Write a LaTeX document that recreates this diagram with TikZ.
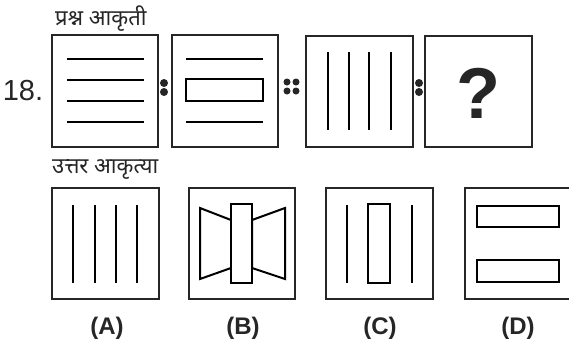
\documentclass[tikz,border=0pt]{standalone}
\usepackage{fontspec}
\setmainfont{Liberation Sans}
\newfontfamily\deva[Script=Devanagari]{Noto Sans}
\usetikzlibrary{positioning}

\begin{document}
\begin{tikzpicture}[
		x=1pt, y=-1pt,
		frame/.style={draw=black!85, line width=2.4pt},
		bar/.style={draw=black, line width=2pt},
		dot/.style={fill=black!85, circle, inner sep=0pt, minimum size=8pt},
		smalldot/.style={dot, minimum size=7pt},
		headtxt/.style={font=\deva\fontsize{22}{22}\selectfont, text=black!85, anchor=west, inner sep=0pt},
		choice/.style={font=\bfseries\fontsize{24}{24}\selectfont, text=black!85}
		]
		
		\fill[white] (0,0) rectangle (569,346);
		\useasboundingbox (0,0) rectangle (569,346);
		
		% Question figures
		\node[headtxt] (qhead) at (55,19) {प्रश्न आकृती};
		\node[font=\fontsize{29}{29}\selectfont, text=black!85] (num) at (23,91) {18.};
		
		\draw[frame] (52,35) rectangle (158,147);
		\foreach \y in {59,80,101,122}
			\draw[bar] (67,\y) -- (144,\y);
		
		\node[dot] (c1a) at (164,83) {};
		\node[dot] (c1b) at (164,92) {};
		
		\draw[frame] (172,35) rectangle (278,147);
		\draw[bar] (186,59) -- (263,59);
		\draw[bar] (186,79) rectangle (263,101);
		\draw[bar] (186,122) -- (263,122);
		
		\foreach \x in {287,296}
			\foreach \y in {82,91}
				\node[smalldot] at (\x,\y) {};
		
		\draw[frame] (306,36) rectangle (413,147);
		\foreach \x in {328,349,369,391}
			\draw[bar] (\x,52) -- (\x,130);
		
		\node[dot] (c3a) at (419,83) {};
		\node[dot] (c3b) at (419,92) {};
		
		\draw[frame] (425,36) rectangle (532,147);
		\node[font=\bfseries\fontsize{72}{72}\selectfont, text=black!85] (ask) at (478,93) {?};
		
		% Answer figures
		\node[headtxt] (ahead) at (52,169) {उत्तर आकृत्या};
		
		\draw[frame] (52,188) rectangle (159,299);
		\foreach \x in {73,95,116,137}
			\draw[bar] (\x,205) -- (\x,283);
		
		\draw[frame] (189,188) rectangle (295,299);
		\draw[bar] (200,208) -- (231,220) -- (231,268) -- (200,279) -- cycle;
		\draw[bar] (252,220) -- (285,208) -- (285,279) -- (252,268) -- cycle;
		\draw[bar, fill=white] (231,204) rectangle (252,283);
		
		\draw[frame] (326,188) rectangle (433,299);
		\draw[bar] (347,205) -- (347,283);
		\draw[bar] (368,204) rectangle (390,283);
		\draw[bar] (412,205) -- (412,283);
		
		\draw[frame] (465,188) rectangle (574,299);
		\draw[bar] (477,206) rectangle (559,227);
		\draw[bar] (477,260) rectangle (559,282);
		
		\node[choice] (optA) at (107,328) {(A)};
		\node[choice] (optB) at (243,328) {(B)};
		\node[choice] (optC) at (380,328) {(C)};
		\node[choice] (optD) at (518,328) {(D)};
		
	\end{tikzpicture}
\end{document}
